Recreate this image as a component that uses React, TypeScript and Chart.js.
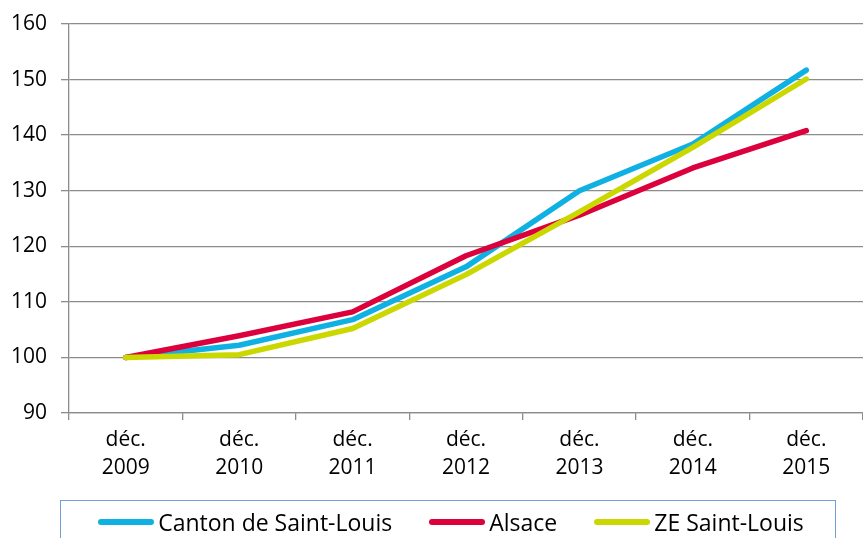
import React, { useEffect, useRef } from "react";
import { Chart, registerables } from "chart.js";

Chart.register(...registerables);

const categories: string[][] = [
  ["déc.", "2009"],
  ["déc.", "2010"],
  ["déc.", "2011"],
  ["déc.", "2012"],
  ["déc.", "2013"],
  ["déc.", "2014"],
  ["déc.", "2015"],
];

const cantonValues = [100, 102.2, 106.8, 116.3, 130, 138.4, 151.7];
const alsaceValues = [100, 103.9, 108.2, 118.3, 125.6, 134.1, 140.8];
const zeValues = [100, 100.5, 105.2, 114.9, 126.2, 137.8, 150.1];

const seriesNames = ["Canton de Saint-Louis", "Alsace", "ZE Saint-Louis"];
const seriesColors = ["#0fb0e2", "#dc003c", "#cbd800"];

const yMin = 90;
const yMax = 160;
const yStep = 10;

const FONT = "'Open Sans', 'Noto Sans', sans-serif";

export default function App() {
  const canvasRef = useRef<HTMLCanvasElement | null>(null);

  useEffect(() => {
    if (!canvasRef.current) return;
    const values = [cantonValues, alsaceValues, zeValues];
    const chart = new Chart(canvasRef.current, {
      type: "line",
      data: {
        labels: categories,
        datasets: values.map((v, i) => ({
          label: seriesNames[i],
          data: v,
          borderColor: seriesColors[i],
          backgroundColor: seriesColors[i],
          borderWidth: 5.5,
          pointRadius: 0,
          pointHoverRadius: 0,
          tension: 0,
          borderCapStyle: "round" as const,
          borderJoinStyle: "round" as const,
          order: 3 - i,
        })),
      },
      options: {
        animation: false,
        responsive: false,
        maintainAspectRatio: false,
        layout: { padding: { top: 24, left: 0, right: 0, bottom: 50 } },
        plugins: {
          legend: { display: false },
          tooltip: { enabled: false },
        },
        scales: {
          x: {
            offset: true,
            grid: {
              offset: true,
              drawOnChartArea: false,
              drawTicks: true,
              tickLength: 7,
              color: "#8c8c8c",
              lineWidth: 1.3,
            },
            border: { color: "#8c8c8c", width: 1.3 },
            ticks: {
              color: "#000",
              padding: 6,
              maxRotation: 0,
              autoSkip: false,
              font: { family: FONT, size: 21, lineHeight: "28px" },
            },
          },
          y: {
            min: yMin,
            max: yMax,
            afterFit: (s: any) => {
              s.width = 69;
              s.paddingTop = 0;
            },
            grid: {
              color: "#8c8c8c",
              lineWidth: 1.3,
              tickLength: 8,
            },
            border: { color: "#8c8c8c", width: 1.3 },
            ticks: {
              stepSize: yStep,
              color: "#000",
              padding: 14,
              font: { family: FONT, size: 21 },
            },
          },
        },
      },
    });
    return () => chart.destroy();
  }, []);

  return (
    <div
      style={{
        position: "fixed",
        left: 0,
        top: 0,
        width: 863,
        height: 538,
        overflow: "hidden",
        background: "#fff",
      }}
    >
      <canvas ref={canvasRef} width={863} height={538} style={{ display: "block" }} />
      <div
        style={{
          position: "absolute",
          left: 60,
          top: 500,
          width: 776,
          height: 60,
          border: "1.5px solid #6f9fd6",
          boxSizing: "border-box",
          display: "flex",
          justifyContent: "center",
          alignItems: "flex-start",
          paddingTop: 6,
          paddingLeft: 6,
          fontFamily: FONT,
          fontSize: 23,
          color: "#000",
        }}
      >
        {seriesNames.map((name, i) => (
          <div
            key={name}
            style={{
              display: "flex",
              alignItems: "center",
              marginLeft: i === 0 ? 0 : 37,
              lineHeight: "30px",
            }}
          >
            <span
              style={{
                display: "inline-block",
                width: 56,
                height: 6,
                borderRadius: 3,
                background: seriesColors[i],
                marginRight: 4,
              }}
            />
            <span>{name}</span>
          </div>
        ))}
      </div>
    </div>
  );
}
